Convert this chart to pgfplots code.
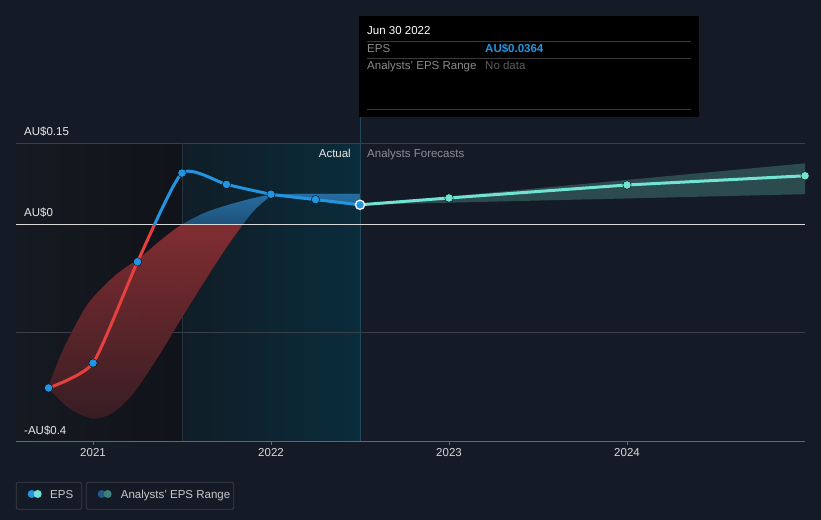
\documentclass[border=0pt]{standalone}
\usepackage{pgfplots}
\pgfplotsset{compat=1.18}
\usepgfplotslibrary{fillbetween}
\usepackage{fontspec}
\setmainfont{Liberation Sans}

\definecolor{bgc}{HTML}{151B26}
\definecolor{gridc}{HTML}{3A3F49}
\definecolor{axc}{HTML}{62666E}
\definecolor{redline}{HTML}{E5413F}
\definecolor{blueline}{HTML}{2394DF}
\definecolor{tealc}{HTML}{72E3D3}
\definecolor{fcband}{HTML}{2C4B4E}
\definecolor{sepc}{HTML}{3A3A3A}
\definecolor{legc}{HTML}{3A3F4A}
\definecolor{pastL}{HTML}{151921}
\definecolor{pastR}{HTML}{101319}
\definecolor{actL}{HTML}{101D27}
\definecolor{actR}{HTML}{0A2C3B}
\definecolor{vline1}{HTML}{243440}
\definecolor{vline2}{HTML}{1E485C}
\definecolor{redtop}{HTML}{8E3236}
\definecolor{redbot}{HTML}{3E2128}
\definecolor{bluetop}{HTML}{2C7AB3}
\definecolor{bluebot}{HTML}{215A86}
\definecolor{zeroc}{HTML}{D8D8D8}
\definecolor{yearc}{HTML}{D7D9DC}
\definecolor{labc}{HTML}{E8E8E8}
\definecolor{fcastc}{HTML}{8A8F96}
\definecolor{ttgray}{HTML}{8A8A8A}
\definecolor{ttdark}{HTML}{5C5C5C}
\definecolor{legtext}{HTML}{C8C8C8}
\definecolor{legblue}{HTML}{1F5A88}
\definecolor{legteal}{HTML}{3D8279}

\newcommand\fs{\fontsize{11.5bp}{13bp}\selectfont}

\begin{document}
\begin{tikzpicture}[x=1bp, y=1bp, every node/.style={inner sep=0pt, font=\fs}]
\begin{axis}[
  at={(16bp,79bp)}, anchor=south west,
  scale only axis, width=789bp, height=441bp,
  xmin=2020.5674, xmax=2025, ymin=-0.4, ymax=0.41481,
  set layers,
  axis x line*=bottom, axis y line=none,
  axis line style={draw=axc, line width=0.8bp},
  xtick={2021,2022,2023,2024}, xticklabels={2021,2022,2023,2024},
  tick align=outside, major tick length=4bp,
  tick style={draw=axc, line width=0.8bp},
  xticklabel style={text=yearc, font=\fs, anchor=base, yshift=-12bp},
  ytick=\empty,
  clip=false,
]
% page background, shaded periods and grid (x: 1 yr = 178px, y: 1 unit = 540px)
\begin{pgfonlayer}{axis background}
\fill[bgc] (axis cs:2020.4775,-0.5481) rectangle (axis cs:2025.0899,0.41481);
\shade[left color=pastL, right color=pastR] (axis cs:2020.5674,-0.4) rectangle (axis cs:2021.5,0.15);
\shade[left color=actL, right color=actR] (axis cs:2021.5,-0.4) rectangle (axis cs:2022.5,0.15);
\draw[gridc, line width=0.8bp] (axis cs:2020.5674,0.15) -- (axis cs:2025,0.15);
\draw[gridc, line width=0.8bp] (axis cs:2020.5674,-0.2) -- (axis cs:2025,-0.2);
\draw[vline1, line width=0.8bp] (axis cs:2021.5,-0.4) -- (axis cs:2021.5,0.15);
\draw[vline2, line width=0.8bp] (axis cs:2022.5,-0.4) -- (axis cs:2022.5,0.1982);
\end{pgfonlayer}
% past range band
\addplot[name path=up, draw=none, smooth] coordinates {
  (2020.745,-0.302) (2020.815,-0.243) (2020.899,-0.187) (2020.983,-0.141)
  (2021.124,-0.094) (2021.264,-0.061) (2021.376,-0.030) (2021.489,-0.002)
  (2021.629,0.022) (2021.787,0.039) (2021.978,0.054) (2022.163,0.057) (2022.5,0.057)};
\addplot[name path=lo, draw=none, smooth] coordinates {
  (2020.745,-0.302) (2020.871,-0.341) (2021.0,-0.359) (2021.112,-0.348)
  (2021.225,-0.313) (2021.360,-0.248) (2021.489,-0.178) (2021.629,-0.104)
  (2021.758,-0.039) (2021.882,0.017) (2021.966,0.044) (2022.022,0.052)
  (2022.247,0.046) (2022.5,0.0364)};
\addplot[top color=redtop, bottom color=redbot, draw=none, fill opacity=0.9]
  fill between[of=up and lo, soft clip={domain y=-1:0}];
\addplot[top color=bluetop, bottom color=bluebot, draw=none, fill opacity=0.9]
  fill between[of=up and lo, soft clip={domain y=0:1}];
% forecast range band
\addplot[name path=fup, draw=none] coordinates {(2022.5,0.0364) (2025,0.113)};
\addplot[name path=flo, draw=none] coordinates {(2022.5,0.0364) (2025,0.056)};
\addplot[fcband, draw=none] fill between[of=fup and flo];
% zero line
\addplot[zeroc, line width=1bp, forget plot] coordinates {(2020.5674,0) (2025,0)};
% EPS history: red below zero, blue above
\begin{scope}
\clip (axis cs:2020.5,-0.45) rectangle (axis cs:2025.1,0);
\addplot[redline, line width=3bp, smooth, tension=0.35] coordinates {
  (2020.75,-0.302) (2021.0,-0.256) (2021.25,-0.069) (2021.5,0.095)
  (2021.75,0.074) (2022.0,0.056) (2022.25,0.046) (2022.5,0.0364)};
\end{scope}
\begin{scope}
\clip (axis cs:2020.5,0) rectangle (axis cs:2025.1,0.45);
\addplot[blueline, line width=3bp, smooth, tension=0.35] coordinates {
  (2020.75,-0.302) (2021.0,-0.256) (2021.25,-0.069) (2021.5,0.095)
  (2021.75,0.074) (2022.0,0.056) (2022.25,0.046) (2022.5,0.0364)};
\end{scope}
% EPS forecast
\addplot[tealc, line width=3bp] coordinates {(2022.5,0.0364) (2023,0.049) (2024,0.073) (2025,0.090)};
\addplot[only marks, mark=*, mark size=4.2bp, mark options={fill=blueline, draw=none}] coordinates {
  (2020.75,-0.302) (2021.0,-0.256) (2021.25,-0.069) (2021.5,0.095)
  (2021.75,0.074) (2022.0,0.056) (2022.25,0.046)};
\addplot[only marks, mark=*, mark size=4.2bp, mark options={fill=tealc, draw=none}] coordinates {
  (2023,0.049) (2024,0.073) (2025,0.090)};
\addplot[only marks, mark=*, mark size=4.6bp, mark options={fill=blueline, draw=white, line width=1.3bp}] coordinates {(2022.5,0.0364)};
\end{axis}

% value labels
\node[anchor=base west, text=labc] at (24,384.5) {AU\$0.15};
\node[anchor=base west, text=labc] at (24,303.5) {AU\$0};
\node[anchor=base west, text=labc] at (24,85) {-AU\$0.4};
\node[anchor=base east, text=labc] at (351,362) {Actual};
\node[anchor=base west, text=fcastc] at (367,362) {Analysts Forecasts};

% tooltip
\fill[black] (359,403) rectangle (698.5,504);
\node[anchor=base west, text=white] at (367,485) {Jun 30 2022};
\draw[sepc, line width=0.8] (367,478.5) -- (691,478.5);
\node[anchor=base west, text=ttgray] at (367,467) {EPS};
\node[anchor=base west, text=blueline, font=\fs\bfseries] at (485,467) {AU\$0.0364};
\draw[sepc, line width=0.8] (367,461.7) -- (691,461.7);
\node[anchor=base west, text=ttgray] at (367,450.7) {Analysts' EPS Range};
\node[anchor=base west, text=ttdark] at (485,450.7) {No data};
\draw[sepc, line width=0.8] (367,410.7) -- (691,410.7);

% legend
\draw[legc, rounded corners=2, line width=0.8] (16.3,10.7) rectangle (81.7,37.7);
\fill[blueline] (31.7,26) circle (4);
\fill[tealc] (37.7,26) circle (4);
\node[anchor=base west, text=legtext] at (50,21.7) {EPS};
\draw[legc, rounded corners=2, line width=0.8] (86.3,10.7) rectangle (233.7,37.7);
\fill[legblue] (101.7,26) circle (4);
\fill[legteal] (107.7,26) circle (4);
\node[anchor=base west, text=legtext] at (120.7,21.7) {Analysts' EPS Range};

\pgfresetboundingbox
\path[use as bounding box] (0,0) rectangle (821,520);
\end{tikzpicture}
\end{document}
